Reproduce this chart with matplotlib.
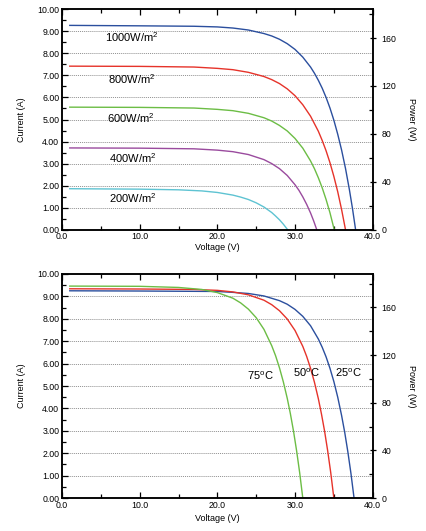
import matplotlib
matplotlib.use("Agg")
import matplotlib.pyplot as plt
from matplotlib.ticker import MultipleLocator

plt.rcParams['font.family'] = ['Liberation Sans', 'DejaVu Sans']
plt.rcParams['mathtext.fontset'] = 'custom'
plt.rcParams['mathtext.rm'] = 'Liberation Sans'
plt.rcParams['mathtext.it'] = 'Liberation Sans'

# --- irradiance curves (top panel) ---
v1000 = [1, 10, 17, 20, 22, 24, 26, 27, 28, 29, 30, 31, 32, 32.5, 33, 33.5, 34, 34.5, 35, 35.5, 36, 36.5, 37, 37.4, 37.8]
i1000 = [9.27, 9.25, 9.23, 9.20, 9.15, 9.06, 8.90, 8.79, 8.64, 8.44, 8.18, 7.83, 7.38, 7.10, 6.78, 6.42, 6.00,
         5.52, 4.97, 4.33, 3.61, 2.78, 1.82, 0.96, 0]
v800 = [1, 10, 17, 20, 22, 24, 26, 27, 28, 29, 30, 31, 32, 33, 33.5, 34, 34.5, 35, 35.5, 36, 36.5]
i800 = [7.42, 7.41, 7.38, 7.32, 7.26, 7.14, 6.95, 6.81, 6.63, 6.39, 6.08, 5.67, 5.15, 4.47, 4.05, 3.58,
        3.04, 2.42, 1.72, 0.91, 0]
v600 = [1, 10, 17, 20, 22, 24, 26, 27, 28, 29, 30, 31, 32, 32.5, 33, 33.5, 34, 34.5, 35.05]
i600 = [5.56, 5.55, 5.52, 5.46, 5.40, 5.28, 5.08, 4.93, 4.73, 4.48, 4.14, 3.70, 3.12, 2.77, 2.36, 1.90,
        1.37, 0.77, 0]
v400 = [1, 10, 17, 20, 22, 24, 26, 27, 28, 29, 30, 30.5, 31, 31.5, 32, 32.4, 32.8]
i400 = [3.71, 3.70, 3.67, 3.61, 3.54, 3.41, 3.18, 3.00, 2.77, 2.46, 2.04, 1.79, 1.49, 1.15, 0.76, 0.40, 0]
v200 = [1, 10, 15, 18, 20, 22, 23, 24, 25, 26, 27, 27.5, 28, 28.5, 29.05]
i200 = [1.86, 1.84, 1.81, 1.76, 1.69, 1.57, 1.48, 1.37, 1.22, 1.03, 0.78, 0.62, 0.45, 0.25, 0]

irr_labels = ["1000W/m$^2$", "800W/m$^2$", "600W/m$^2$", "400W/m$^2$", "200W/m$^2$"]
irr_label_v = [5.5, 5.9, 5.8, 6.0, 6.0]
irr_label_i = [8.74, 6.83, 5.07, 3.25, 1.43]

# --- temperature curves (bottom panel) ---
v25 = [1, 10, 20, 22, 24, 26, 28, 29, 30, 31, 32, 33, 33.5, 34, 34.5, 35, 35.5, 36, 36.4, 36.8, 37.2, 37.6]
i25 = [9.25, 9.24, 9.22, 9.18, 9.13, 9.02, 8.81, 8.65, 8.42, 8.11, 7.69, 7.10, 6.73, 6.30, 5.79, 5.20,
       4.50, 3.68, 2.93, 2.07, 1.10, 0]
v50 = [1, 10, 17, 20, 22, 24, 26, 27, 28, 29, 30, 31, 31.5, 32, 32.5, 33, 33.4, 33.8, 34.2, 34.6, 35.0]
i50 = [9.34, 9.33, 9.31, 9.27, 9.20, 9.07, 8.83, 8.63, 8.36, 7.99, 7.48, 6.77, 6.32, 5.79, 5.17, 4.44,
       3.76, 3.00, 2.12, 1.13, 0]
v75 = [1, 10, 15, 18, 20, 22, 23, 24, 25, 26, 27, 27.5, 28, 28.5, 29, 29.4, 29.8, 30.2, 30.6, 31.0]
i75 = [9.46, 9.45, 9.40, 9.31, 9.17, 8.92, 8.71, 8.43, 8.05, 7.53, 6.80, 6.35, 5.81, 5.18, 4.45, 3.77,
       3.00, 2.12, 1.13, 0]

temp_labels = ["75$^{\\rm o}$C", "50$^{\\rm o}$C", "25$^{\\rm o}$C"]
temp_label_v = [25.6, 31.4, 36.9]
temp_label_i = [5.45, 5.58, 5.58]

blue = "#2b4f9e"
red = "#e6332a"
green = "#6cbd45"
purple = "#9a4b9e"
cyan = "#5ec3d2"

fig = plt.figure(figsize=(4.27, 5.31), dpi=100)
ax1 = fig.add_axes([0.1452, 0.5674, 0.7276, 0.4151])
ax2 = fig.add_axes([0.1452, 0.0621, 0.7276, 0.4219])


def style(ax, pmax, xpad):
    ax.set_xlim(0, 40)
    ax.set_ylim(0, 10)
    ax.xaxis.set_major_locator(MultipleLocator(10))
    ax.xaxis.set_minor_locator(MultipleLocator(5))
    ax.yaxis.set_major_locator(MultipleLocator(1))
    ax.yaxis.set_minor_locator(MultipleLocator(0.5))
    ax.xaxis.set_major_formatter(lambda x, p: "%.1f" % x)
    ax.yaxis.set_major_formatter(lambda y, p: "%.2f" % y)
    ax.tick_params(which='both', direction='in', top=True, right=False, labelsize=6.3, width=0.9, pad=2)
    ax.tick_params(which='major', length=4)
    ax.tick_params(which='minor', length=3)
    for s in ax.spines.values():
        s.set_linewidth(1.1)
    for y in range(1, 10):
        ax.axhline(y, color='#909090', linestyle=(0, (1, 1)), linewidth=0.7, zorder=0)
    ax.set_xlabel("Voltage (V)", fontsize=6.5, labelpad=xpad)
    ax.set_ylabel("Current (A)", fontsize=6.5, labelpad=8)
    axr = ax.twinx()
    axr.set_ylim(0, pmax)
    axr.yaxis.set_major_locator(MultipleLocator(40))
    axr.yaxis.set_minor_locator(MultipleLocator(20))
    axr.tick_params(which='major', direction='inout', length=5, width=0.9, labelsize=6.3, pad=4)
    axr.tick_params(which='minor', direction='in', length=3, width=0.9)
    axr.set_ylabel("Power (W)", fontsize=6.5, rotation=270, labelpad=14)
    for s in axr.spines.values():
        s.set_linewidth(1.1)


style(ax1, 184, 1)
lw = 1.0
ax1.plot(v1000, i1000, color=blue, lw=lw)
ax1.plot(v800, i800, color=red, lw=lw)
ax1.plot(v600, i600, color=green, lw=lw)
ax1.plot(v400, i400, color=purple, lw=lw)
ax1.plot(v200, i200, color=cyan, lw=lw)
for t, x, y in zip(irr_labels, irr_label_v, irr_label_i):
    ax1.text(x, y, t, fontsize=8, ha='left', va='center')

style(ax2, 188, 3)
ax2.plot(v25, i25, color=blue, lw=lw)
ax2.plot(v50, i50, color=red, lw=lw)
ax2.plot(v75, i75, color=green, lw=lw)
for t, x, y in zip(temp_labels, temp_label_v, temp_label_i):
    ax2.text(x, y, t, fontsize=8, ha='center', va='center')

fig.savefig("out.png", dpi=100)
